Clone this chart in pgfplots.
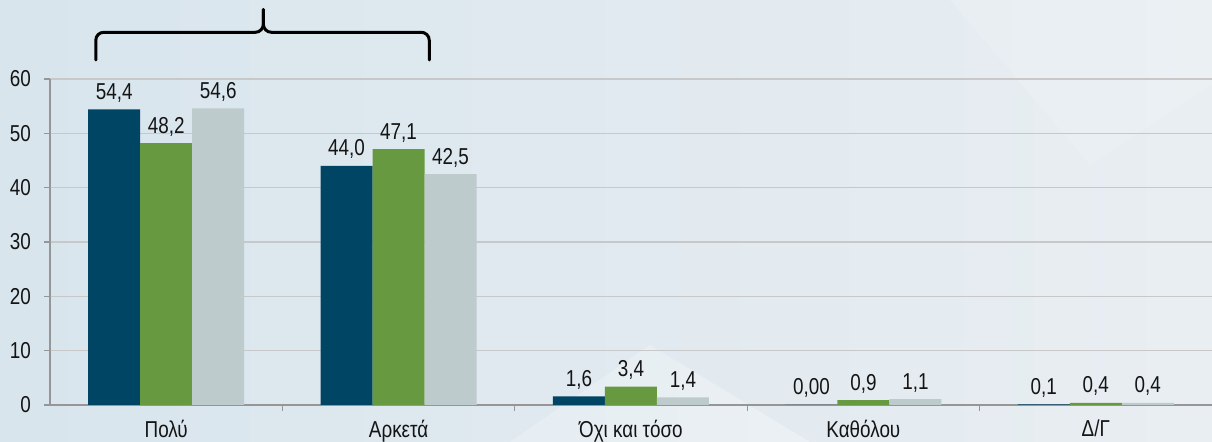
\documentclass[border=0pt]{standalone}
\usepackage{pgfplots}
\pgfplotsset{compat=1.18}
\usepackage{fontspec}
\setmainfont{Liberation Sans}[FakeStretch=0.82]
\definecolor{cblue}{RGB}{0,70,100}
\definecolor{cgreen}{RGB}{103,154,64}
\definecolor{cgrey}{RGB}{190,203,204}
\definecolor{bgL}{RGB}{216,229,237}
\definecolor{bgR}{RGB}{233,238,242}
\definecolor{gridc}{RGB}{200,200,200}
\definecolor{axc}{RGB}{150,150,150}
\definecolor{txt}{RGB}{20,20,20}

\pgfplotstableread{
x y lab
0 54.4 54,4
1 44.0 44,0
2 1.6 1,6
3 0.0 0,00
4 0.1 0,1
}\serA
\pgfplotstableread{
x y lab
0 48.2 48,2
1 47.1 47,1
2 3.4 3,4
3 0.9 0,9
4 0.4 0,4
}\serB
\pgfplotstableread{
x y lab
0 54.6 54,6
1 42.5 42,5
2 1.4 1,4
3 1.1 1,1
4 0.4 0,4
}\serC

\begin{document}
\begin{tikzpicture}
\path[use as bounding box, left color=bgL, right color=bgR] (-25pt,-18.5pt) rectangle (581pt,202.5pt);
\fill[white, opacity=0.25] (230pt,-18.5pt) -- (300pt,30pt) -- (380pt,-18.5pt) -- cycle;
\fill[white, opacity=0.12] (450pt,202.5pt) -- (520pt,120pt) -- (581pt,160pt) -- (581pt,202.5pt) -- cycle;
\begin{axis}[
  at={(0,0)}, anchor=south west,
  scale only axis, width=581pt, height=163pt,
  xmin=-0.5, xmax=4.5, ymin=0, ymax=60,
  ytick={0,10,...,60},
  xtick={0,1,2,3,4},
  xticklabels={Πολύ, Αρκετά, Όχι και τόσο, Καθόλου, Δ/Γ},
  minor xtick={0.5,1.5,2.5,3.5},
  major x tick style={draw=none},
  minor x tick style={axc, line width=0.6pt},
  minor tick length=3pt,
  y tick style={axc, line width=0.6pt},
  major tick length=3pt,
  tick align=outside,
  axis x line*=bottom, axis y line*=left,
  axis line style={axc, line width=0.8pt, -},
  ymajorgrids, grid style={gridc, line width=0.8pt},
  ticklabel style={font=\fontsize{11.5}{13}\selectfont, text=txt},
  xticklabel style={yshift=-1pt},
  yticklabel style={xshift=-3pt},
  /pgf/number format/assume math mode=true,
  ybar=0pt, bar width=26pt,
  clip=false,
  nodes near coords,
  point meta=explicit symbolic,
  every node near coord/.append style={font=\fontsize{11.5}{13}\selectfont, text=txt, yshift=0pt},
]
\addplot[fill=cblue, draw=none] table[x=x, y=y, meta=lab] {\serA};
\addplot[fill=cgreen, draw=none] table[x=x, y=y, meta=lab] {\serB};
\addplot[fill=cgrey, draw=none] table[x=x, y=y, meta=lab] {\serC};
\draw[line width=1.5pt, black, rounded corners=4pt, line cap=round]
  (axis cs:-0.303,63.5) -- (axis cs:-0.303,68.6) -- (axis cs:0.418,68.6) -- (axis cs:0.418,72.8);
\draw[line width=1.5pt, black, rounded corners=4pt, line cap=round]
  (axis cs:1.132,63.5) -- (axis cs:1.132,68.6) -- (axis cs:0.418,68.6) -- (axis cs:0.418,72.8);
\end{axis}
\end{tikzpicture}
\end{document}
